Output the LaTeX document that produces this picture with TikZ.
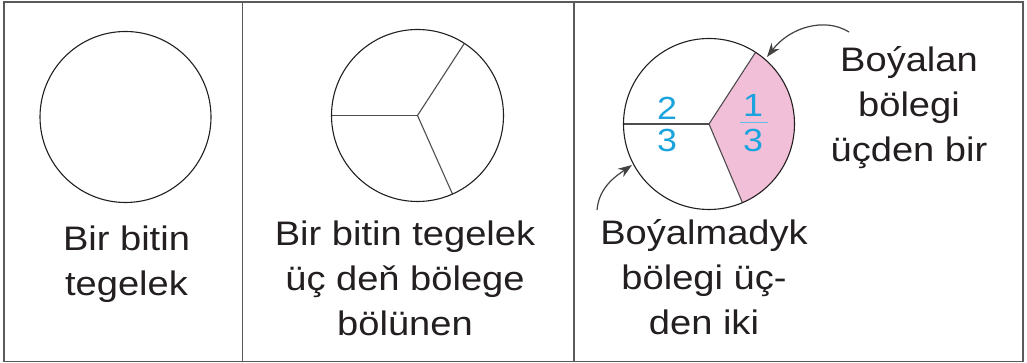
\documentclass[tikz,border=0pt]{standalone}
\usepackage{fontspec}
\usetikzlibrary{arrows.meta}
\newfontfamily\lblfont[FakeStretch=1.12]{Liberation Sans}
\definecolor{ink}{HTML}{231F20}
\definecolor{frame}{HTML}{5A5A5A}
\definecolor{pinkfill}{HTML}{F2BFD9}
\definecolor{fracblue}{HTML}{1AA3DD}
\tikzset{
  cell/.style={draw=frame,line width=1.3pt},
  disc/.style={draw=ink,line width=1.1pt},
  spoke/.style={draw=ink!80,line width=1.1pt},
  label/.style={font=\lblfont\fontsize{34}{45}\selectfont,text=ink,align=center,inner sep=0pt,anchor=base},
  digit/.style={font=\lblfont\fontsize{32}{32}\selectfont,text=fracblue,inner sep=0pt},
  pointer/.style={draw=ink!85,line width=1.2pt,-{Stealth[length=14pt,width=10pt]}}
}
\begin{document}
\begin{tikzpicture}[x=1pt,y=1pt]
\useasboundingbox (0,0) rectangle (1027,363);
% table frame
\draw[cell] (4,1.5) rectangle (1023,361);
\draw[cell] (242.5,1.5) -- (242.5,361);
\draw[cell] (574,1.5) -- (574,361);

% column 1
\coordinate (c1) at (125.5,246);
\draw[disc] (c1) circle[radius=85.5];
\node[label] (t1) at (126.5,67) {Bir bitin\\tegelek};

% column 2
\coordinate (c2) at (417.5,247.5);
\draw[spoke] (c2) -- ++(180:86);
\draw[spoke] (c2) -- ++(57:86);
\draw[spoke] (c2) -- ++(-66:86);
\draw[disc] (c2) circle[radius=86];
\node[label] (t2) at (405,27) {Bir bitin tegelek\\üç deň bölege\\bölünen};

% column 3
\coordinate (c3) at (709,239);
\fill[pinkfill] (c3) -- ++(57:85.5) arc[start angle=57,end angle=-67,radius=85.5] -- cycle;
\draw[spoke] (c3) -- ++(180:85.5);
\draw[spoke] (c3) -- ++(57:85.5);
\draw[spoke] (c3) -- ++(-67:85.5);
\draw[disc] (c3) circle[radius=85.5];

\node[digit] (n2) at (667,254.7) {2};
\node[digit] (d2) at (667,223) {3};
\node[digit] (n1) at (753,257.5) {1};
\node[digit] (d1) at (753,223) {3};
\coordinate (barL) at (740,240.3);
\coordinate (barR) at (768,240.3);
\draw[fracblue!70,line width=0.9pt] (barL) -- (barR);

\node[label] (t3) at (909,201.5) {Boýalan\\bölegi\\üçden bir};
\node[label] (t4) at (704,28) {Boýalmadyk\\bölegi üç-\\den iki};

\coordinate (s1) at (849,331);
\coordinate (e1) at (767,306);
\draw[pointer] (s1) .. controls (825,346) and (790,336) .. (e1);
\coordinate (s2) at (597,153);
\coordinate (e2) at (632,198);
\draw[pointer] (s2) .. controls (599,176) and (616,187) .. (e2);
\end{tikzpicture}
\end{document}
